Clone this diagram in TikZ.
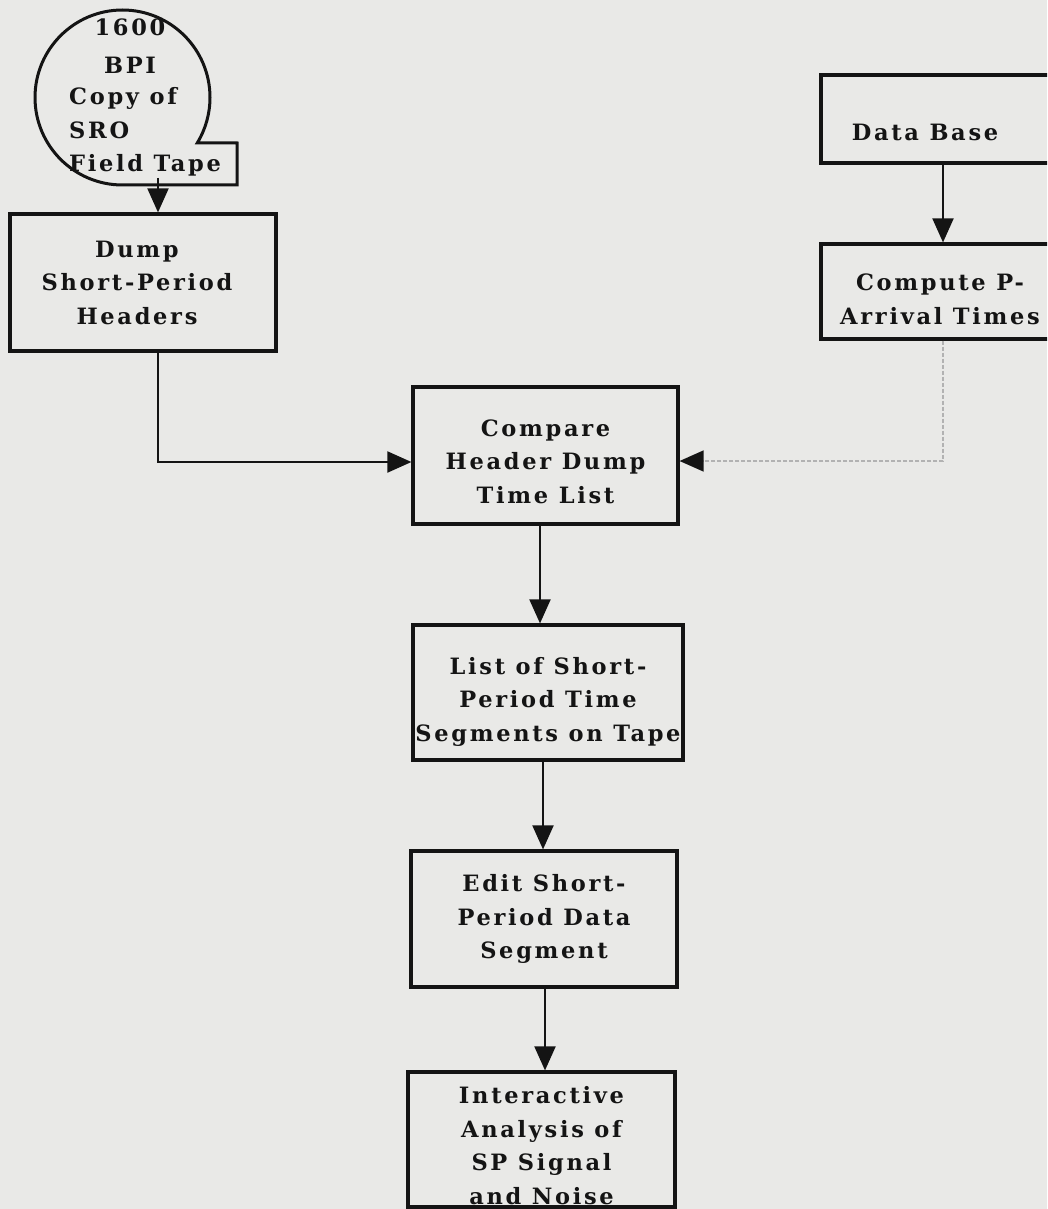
\documentclass[tikz,border=0pt]{standalone}
\usepackage{fontspec}
\setmainfont{DejaVu Serif}[LetterSpace=12.0]
\usetikzlibrary{arrows.meta,calc}
\definecolor{paper}{RGB}{233,233,231}
\definecolor{ink}{RGB}{20,20,20}
\begin{document}
\begin{tikzpicture}[x=1pt,y=-1pt,
  box/.style={draw=ink, line width=3.2pt, inner sep=0pt},
  lbl/.style={text=ink, font=\fontsize{22.5}{33.5}\selectfont\bfseries, align=center, inner sep=0pt},
  conn/.style={draw=ink, line width=2pt},
  faint/.style={draw=gray!60, line width=1.4pt, dash pattern=on 4pt off 2pt},
  tip/.style={-{Triangle[length=24pt,width=21pt,color=ink]}}]
\fill[paper] (0,0) rectangle (1047,1209);
\clip (0,0) rectangle (1047,1209);
% tape symbol
\draw[ink, line width=3pt, line join=miter]
  (237,185) -- (122.5,185) arc[start angle=90, end angle=391.3, radius=87.5] -- (237,143) -- cycle;
\node[lbl, font=\fontsize{22.5}{38}\selectfont\bfseries] (tapetop) at (130,46) {1600\\BPI};
\node[lbl, align=left, anchor=west] (tapetxt) at (69,132) {Copy of\\SRO\\Field Tape};
\coordinate (tapeout) at (158,178);
% boxes
\node[box, minimum width=266pt, minimum height=137pt,
  label={[lbl,xshift=-6pt]center:Dump\\Short-Period\\Headers}] (dump) at (143,282.5) {};
\node[box, minimum width=265pt, minimum height=137pt,
  label={[lbl,yshift=-6pt]center:Compare\\Header Dump\\Time List}] (cmp) at (545.5,455.5) {};
\node[box, minimum width=270pt, minimum height=135pt,
  label={[lbl,yshift=-9pt]center:List of Short-\\Period Time\\Segments on Tape}] (list) at (548,692.5) {};
\node[box, minimum width=266pt, minimum height=136pt,
  label={[lbl]center:Edit Short-\\Period Data\\Segment}] (edit) at (544,919) {};
\node[box, minimum width=267pt, minimum height=135pt,
  label={[lbl,yshift=-6pt]center:Interactive\\Analysis of\\SP Signal\\and Noise}] (inter) at (541.5,1139.5) {};
\node[box, minimum width=244pt, minimum height=88pt,
  label={[lbl,xshift=-18pt,yshift=-13pt]center:Data Base}] (db) at (943,119) {};
\node[box, minimum width=244pt, minimum height=95pt,
  label={[lbl,xshift=-3pt,yshift=-8pt]center:Compute P-\\Arrival Times}] (comp) at (943,291.5) {};
% turning points and columns
\coordinate (lturn) at (158,462);
\coordinate (rturn) at (943,461);
\coordinate (c1) at (540,0);
\coordinate (c2) at (543,0);
\coordinate (c3) at (545,0);
% connectors
\draw[conn, tip] (tapeout) -- (tapeout |- dump.north);
\draw[conn, tip] (dump.south -| tapeout) |- (cmp.west |- lturn);
\draw[conn, tip] (db.south) -- (comp.north);
\draw[faint, tip] (comp.south) |- (cmp.east |- rturn);
\draw[conn, tip] (cmp.south -| c1) -- (list.north -| c1);
\draw[conn, tip] (list.south -| c2) -- (edit.north -| c2);
\draw[conn, tip] (edit.south -| c3) -- (inter.north -| c3);
\end{tikzpicture}
\end{document}
